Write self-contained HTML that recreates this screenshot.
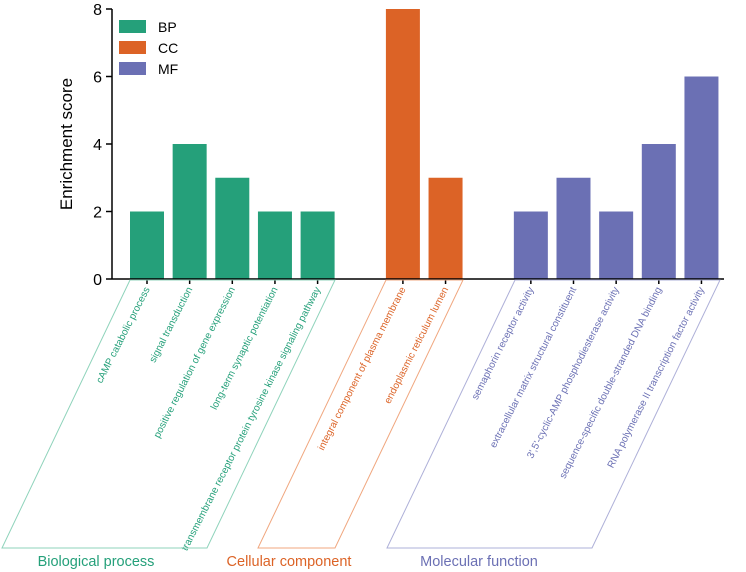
<!DOCTYPE html>
<html><head><meta charset="utf-8"><style>
html,body{margin:0;padding:0;background:#fff;}
svg{display:block;font-family:"Liberation Sans",Arial,sans-serif;}
</style></head><body>
<svg id="chart" width="746" height="572" viewBox="0 0 746 572"></svg>
<script>
const categories = ["cAMP catabolic process","signal transduction","positive regulation of gene expression","long-term synaptic potentiation","transmembrane receptor protein tyrosine kinase signaling pathway","integral component of plasma membrane","endoplasmic reticulum lumen","semaphorin receptor activity","extracellular matrix structural constituent","3',5'-cyclic-AMP phosphodiesterase activity","sequence-specific double-stranded DNA binding","RNA polymerase II transcription factor activity"];
const groups = ["BP","BP","BP","BP","BP","CC","CC","MF","MF","MF","MF","MF"];
const values = [2,4,3,2,2,8,3,2,3,2,4,6];
const slots = [0,1,2,3,4,6,7,9,10,11,12,13];
const yTicks = [0,2,4,6,8];
const groupNames = ["BP","CC","MF"];
const groupLabels = ["Biological process","Cellular component","Molecular function"];

const colors = {BP:"#25a07a",CC:"#dc6326",MF:"#6b70b4"};
const light = {BP:"#8fd3bb",CC:"#f0a77f",MF:"#aeb0d8"};
const NS="http://www.w3.org/2000/svg";
const svg=document.getElementById("chart");
const x0=112, x1=724, yBase=279, yTop=9, yMax=8;
const y=v=>yBase-(v/yMax)*(yBase-yTop);
const xc=s=>147+s*42.65;
const bw=34;
function mk(t,a,p){const e=document.createElementNS(NS,t);for(const k in a)e.setAttribute(k,a[k]);(p||svg).appendChild(e);return e;}

let e=mk("line",{x1:x0,y1:yTop,x2:x0,y2:yBase,stroke:"#000","stroke-width":1.5});


yTicks.forEach(t=>{
  let l=mk("line",{x1:x0-6,y1:y(t),x2:x0,y2:y(t),stroke:"#000","stroke-width":1.5});
  
  
  let tx=mk("text",{x:x0-10,y:y(t)+6,"text-anchor":"end","font-size":16});
  tx.textContent=t;
  
  
});
let yt=mk("text",{x:0,y:0,"text-anchor":"middle","font-size":17,transform:"translate(72,144) rotate(-90)"});
yt.textContent="Enrichment score";



values.forEach((v,i)=>{
  const cx=xc(slots[i]);
  let r=mk("rect",{x:cx-bw/2,y:y(v),width:bw,height:yBase-y(v),fill:colors[groups[i]]});
  
  
  let tk=mk("line",{x1:cx,y1:yBase,x2:cx,y2:yBase+5,stroke:"#000","stroke-width":1.5});
  
  
  let lb=mk("text",{x:0,y:0,"text-anchor":"end","font-size":10,fill:colors[groups[i]],transform:`translate(${cx+3},${yBase+10}) rotate(-63)`});
  lb.textContent=categories[i];
  
  
});
e=mk("line",{x1:x0,y1:yBase,x2:x1,y2:yBase,stroke:"#000","stroke-width":1.5});



const brackets={BP:[130,335],CC:[386,463],MF:[515,720]};
const labelX={BP:96,CC:289,MF:479};
groupNames.forEach((g,i)=>{
  const [a,b]=brackets[g];
  let p=mk("polygon",{points:`${a},280 ${b},280 ${b-128},548 ${a-128},548`,fill:"none",stroke:light[g],"stroke-width":1});
  
  
  let t=mk("text",{x:labelX[g],y:566,"text-anchor":"middle","font-size":14.5,fill:colors[g]});
  t.textContent=groupLabels[i];
  
  
});

groupNames.forEach((g,i)=>{
  const ly=20+i*21;
  let s=mk("rect",{x:119,y:ly,width:27,height:13,fill:colors[g]});
  
  
  let t=mk("text",{x:158,y:ly+12,"font-size":14});
  t.textContent=g;
  
  
});
</script>
</body></html>
